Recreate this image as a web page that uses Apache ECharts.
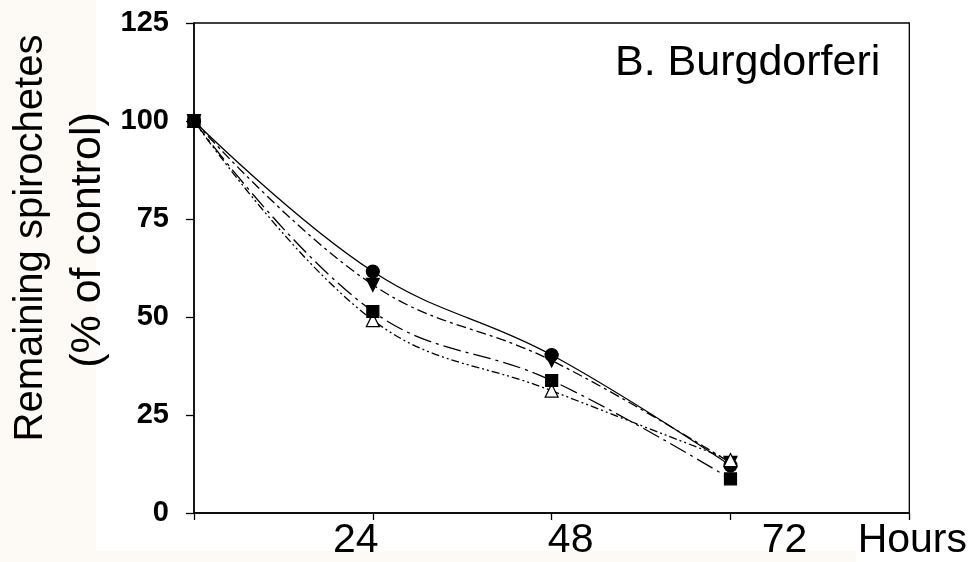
<!DOCTYPE html>
<html>
<head>
<meta charset="utf-8">
<script src="https://cdn.jsdelivr.net/npm/echarts@6/dist/echarts.min.js"></script>
<style>
html,body{margin:0;padding:0;background:#fff;}
#c{width:970px;height:562px;}
</style>
</head>
<body>
<div id="c"></div>
<script>
var hours = [0, 24, 48, 72];
var circleVals = [100, 61.6, 40.3, 12.1];
var triDownVals = [100, 58.2, 38.9, 12.8];
var squareVals = [100, 51.4, 33.8, 8.7];
var triUpVals = [100, 49.2, 31.2, 13.5];
var xTickLabels = {0: '', 24: '24', 48: '48', 72: '72', 96: 'Hours'};
var yTickValues = [0, 25, 50, 75, 100, 125];
var titleText = 'B. Burgdorferi';
var yTitleLines = ['Remaining spirochetes', '(% of control)'];

function pairs(vals) { return hours.map(function (h, i) { return [h, vals[i]]; }); }

var chart = echarts.init(document.getElementById('c'));
var FONT = 'Liberation Sans, Arial, sans-serif';

function mk(name, vals, symbol, size, dash, fill) {
  return {
    name: name, type: 'line', data: pairs(vals), smooth: 0.4,
    symbol: symbol, symbolSize: size, showSymbol: true,
    lineStyle: {color: '#000', width: 1.3, type: dash},
    itemStyle: {color: fill, borderColor: '#000', borderWidth: 1.2},
    emphasis: {disabled: true}, animation: false
  };
}

var labelPad = {24: [0, 34, 0, 0], 48: [0, 0, 0, 38], 72: [0, 0, 0, 108], 96: [0, 0, 0, 6]};
var rich = {};
Object.keys(labelPad).forEach(function (k) {
  rich['p' + k] = {fontSize: 41, fontFamily: FONT, color: '#000', padding: labelPad[k], lineHeight: 44};
});

chart.setOption({
  backgroundColor: '#ffffff',
  animation: false,
  graphic: [
    {type: 'rect', z: -10, silent: true, shape: {x: 0, y: 0, width: 96, height: 562}, style: {fill: '#fdf9f5'}},
    {type: 'rect', z: -10, silent: true, shape: {x: 96, y: 551, width: 760, height: 11}, style: {fill: '#fdf9f5'}},
    {type: 'text', x: 615, y: 63, style: {text: titleText, font: '43px ' + FONT, fill: '#000', textAlign: 'left', textVerticalAlign: 'middle'}},
    {type: 'text', x: 31, y: 238, rotation: Math.PI / 2, style: {text: yTitleLines[0], font: '40px ' + FONT, fill: '#000', textAlign: 'center', textVerticalAlign: 'middle'}},
    {type: 'text', x: 88, y: 240, rotation: Math.PI / 2, style: {text: yTitleLines[1], font: '43px ' + FONT, fill: '#000', textAlign: 'center', textVerticalAlign: 'middle'}}
  ],
  grid: {left: 194, right: 55, top: 23, bottom: 49, show: true, borderColor: '#000', borderWidth: 1.3, backgroundColor: 'transparent'},
  xAxis: {
    type: 'value', min: 0, max: 96, interval: 24,
    axisLine: {show: true, lineStyle: {color: '#000', width: 1.5}},
    axisTick: {show: true, inside: false, length: 7, lineStyle: {color: '#000', width: 1.3}},
    splitLine: {show: false},
    axisLabel: {
      margin: 6, color: '#000', fontSize: 41, fontFamily: FONT, showMinLabel: true, showMaxLabel: true,
      formatter: function (v) { var t = xTickLabels[v]; if (!t) return ''; return '{p' + v + '|' + t + '}'; },
      rich: rich
    }
  },
  yAxis: {
    type: 'value', min: 0, max: 125, interval: 25,
    axisLine: {show: true, lineStyle: {color: '#000', width: 1.5}},
    axisTick: {show: true, inside: false, length: 8, lineStyle: {color: '#000', width: 1.3}},
    splitLine: {show: false},
    axisLabel: {
      margin: 25, color: '#000', fontSize: 29, fontWeight: 'bold', fontFamily: FONT,
      formatter: function (v) { return yTickValues.indexOf(v) >= 0 ? String(v) : ''; }
    }
  },
  series: [
    mk('circle', circleVals, 'circle', 13, 'solid', '#000'),
    mk('triDown', triDownVals, 'path://M0,0 L10,0 L5,9 Z', 13, [10, 4, 3, 4], '#000'),
    mk('triUp', triUpVals, 'triangle', 13, [8, 3, 2, 3, 2, 3], '#fff'),
    mk('square', squareVals, 'rect', 12, [18, 5, 3, 5], '#000')
  ]
});
</script>
</body>
</html>
